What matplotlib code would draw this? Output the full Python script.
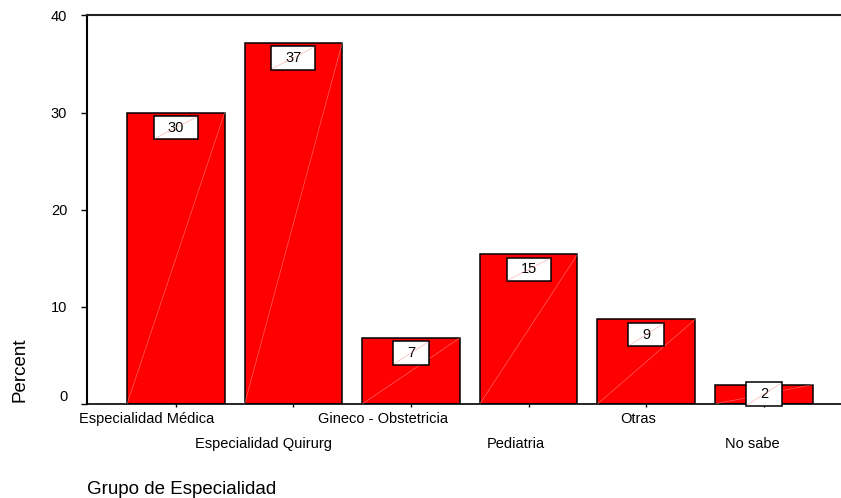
import numpy as np
import matplotlib
matplotlib.use("Agg")
import matplotlib.pyplot as plt
from matplotlib.path import Path
from matplotlib.transforms import ScaledTranslation, blended_transform_factory

categories = ["Especialidad Médica", "Especialidad Quirurg", "Gineco - Obstetricia",
              "Pediatria", "Otras", "No sabe"]
percents = [30.0, 37.2, 6.8, 15.4, 8.7, 2.0]
yticks = [0, 10, 20, 30, 40]

plt.rcParams["font.family"] = ["Liberation Sans", "DejaVu Sans"]


def label_box(x0, y0, width, height, mutation_size):
    # wide flat box used behind the value labels
    px = 0.95 * mutation_size
    py = 0.33 * mutation_size
    x0, y0 = x0 - px, y0 - py
    x1, y1 = x0 + width + 2 * px, y0 + height + 2 * py
    return Path([(x0, y0), (x1, y0), (x1, y1), (x0, y1), (x0, y0)], closed=True)


fig = plt.figure(figsize=(8.41, 4.98), dpi=100)
ax = fig.add_axes([0.1035, 0.1888, 0.8965, 0.7801])

x = np.arange(len(categories))
w = 0.83
ax.bar(x, percents, width=w, color="#ff0000", edgecolor="black", linewidth=1.1, zorder=2)
for xi, v in zip(x, percents):
    ax.plot([xi - w / 2, xi + w / 2], [0, v], color="#ffc0c0", lw=0.5, alpha=0.5, zorder=3)

# value labels near the top of each bar
value_labels = []
for xi, v in zip(x, percents):
    t = ax.text(xi, max(v - 1.55, v / 2), f"{v:.0f}", ha="center", va="center",
                fontsize=10.5, zorder=5,
                bbox=dict(boxstyle=label_box, fc="white", ec="black", lw=1.1))
    value_labels.append(t)

ax.set_xlim(-0.755, 5.656)
ax.set_ylim(0, 40)
ax.set_yticks(yticks)
ax.set_xticks(x)
ax.set_xticklabels([])
ax.tick_params(axis="y", length=4.3, width=1, pad=10, labelsize=10.5)
ax.tick_params(axis="x", length=2.5, width=1)
ax.get_yticklabels()[0].set_va("bottom")

ax.spines["right"].set_visible(False)
ax.spines["left"].set_linewidth(1.5)
ax.spines["top"].set_linewidth(1.5)
ax.spines["top"].set_color("#222222")
ax.spines["bottom"].set_linewidth(1.2)

# category names on two staggered rows
trans = blended_transform_factory(ax.transData, ax.transAxes)
cat_labels = []
for i, (xi, name) in enumerate(zip(x, categories)):
    dy = 13.7 if i % 2 == 0 else 31.5
    t = ax.text(xi, 0, name, transform=trans + ScaledTranslation(0, -dy / 72, fig.dpi_scale_trans),
                ha="left", va="baseline", fontsize=10.5)
    cat_labels.append((t, dy))

fig.text(20 / 841, 1 - 370 / 498, "Percent", rotation=90, ha="center", va="center", fontsize=13.5)
fig.text(87 / 841, 4 / 498, "Grupo de Especialidad", ha="left", va="baseline", fontsize=13.5)

fig.canvas.draw()
renderer = fig.canvas.get_renderer()

# shift each name left in proportion to its width
for t, dy in cat_labels:
    wpx = t.get_window_extent(renderer).width
    t.set_transform(trans + ScaledTranslation(-0.715 * wpx / fig.dpi, -dy / 72, fig.dpi_scale_trans))

# faint diagonal across each value box
inv = ax.transData.inverted()
for t in value_labels:
    bb = t.get_bbox_patch().get_window_extent(renderer)
    (bx0, by0), (bx1, by1) = inv.transform([(bb.x0 + 1, bb.y0 + 1), (bb.x1 - 1, bb.y1 - 1)])
    ax.plot([bx0, bx1], [by0, by1], color="#ff8080", lw=0.5, alpha=0.6, zorder=6, clip_on=False)

fig.savefig("out.png", dpi=100)
